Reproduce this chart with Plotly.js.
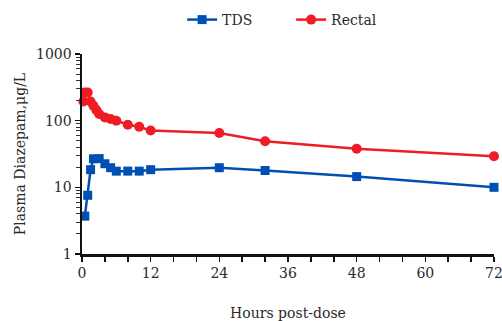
<!DOCTYPE html>
<html>
<head>
<meta charset="utf-8">
<script src="https://cdn.plot.ly/plotly-3.0.1.min.js"></script>
<style>html,body{margin:0;padding:0;background:#fff}#chart{width:502px;height:321px}</style>
</head>
<body>
<div id="chart"></div>
<script>
var tdsHours = [0.5, 1, 1.5, 2, 3, 4, 5, 6, 8, 10, 12, 24, 32, 48, 72];
var tdsConc  = [3.7, 7.6, 18.4, 26.8, 27, 22.6, 19.7, 17.5, 17.5, 17.5, 18.4, 19.7, 17.9, 14.5, 10];
var rectalHours = [0.25, 0.5, 1, 1.5, 2, 2.5, 3, 4, 5, 6, 8, 10, 12, 24, 32, 48, 72];
var rectalConc  = [194, 264, 264, 194, 167, 144, 126, 112, 106, 100, 87, 81, 71, 65.5, 49, 37.8, 29.3];
var xTickVals = [0, 12, 24, 36, 48, 60, 72];
var yTickVals = [1, 10, 100, 1000];

var font = 'DejaVu Serif';
var txt = '#2a2a2a';
var traces = [
  {x: tdsHours, y: tdsConc, name: 'TDS', type: 'scatter', mode: 'lines+markers',
   line: {color: '#0050B4', width: 2.5}, marker: {symbol: 'square', size: 9, color: '#0050B4'}, cliponaxis: false},
  {x: rectalHours, y: rectalConc, name: 'Rectal', type: 'scatter', mode: 'lines+markers',
   line: {color: '#EE1C25', width: 2.5}, marker: {symbol: 'circle', size: 10, color: '#EE1C25'}, cliponaxis: false}
];
var layout = {
  width: 502, height: 321,
  margin: {l: 82, r: 8, t: 54, b: 67, autoexpand: false},
  paper_bgcolor: '#fff', plot_bgcolor: '#fff',
  font: {family: font, size: 14, color: txt},
  showlegend: true,
  legend: {orientation: 'h', x: 0.243, xanchor: 'left', y: 1.17, yanchor: 'middle',
           font: {family: font, size: 14, color: txt}, entrywidth: 64, traceorder: 'normal'},
  xaxis: {range: [0, 72], tickvals: xTickVals, ticktext: xTickVals.map(String), ticklabeloverflow: 'allow',
          showline: true, linecolor: '#111', linewidth: 2.5, ticks: 'outside', ticklen: 5, tickwidth: 1.5, tickcolor: '#111',
          minor: {dtick: 4, tick0: 0, ticks: 'outside', ticklen: 5, tickwidth: 1.5, tickcolor: '#111', showgrid: false},
          showgrid: false, zeroline: false,
          tickfont: {family: font, size: 14, color: txt},
          title: {text: 'Hours post-dose', font: {family: font, size: 14, color: txt}, standoff: 34}},
  yaxis: {type: 'log', range: [0, 3], tickvals: yTickVals, ticktext: yTickVals.map(String), ticklabeloverflow: 'allow',
          showline: true, linecolor: '#111', linewidth: 2.5, ticks: 'outside', ticklen: 5, tickwidth: 1.5, tickcolor: '#111',
          minor: {dtick: 'D1', ticks: 'outside', ticklen: 4, tickwidth: 1, tickcolor: '#333', showgrid: false},
          showgrid: false, zeroline: false,
          tickfont: {family: font, size: 14, color: txt},
          title: {text: 'Plasma Diazepam,μg/L', font: {family: font, size: 14, color: txt}, standoff: 7}}
};
Plotly.newPlot('chart', traces, layout, {staticPlot: true, displayModeBar: false});
</script>
</body>
</html>
